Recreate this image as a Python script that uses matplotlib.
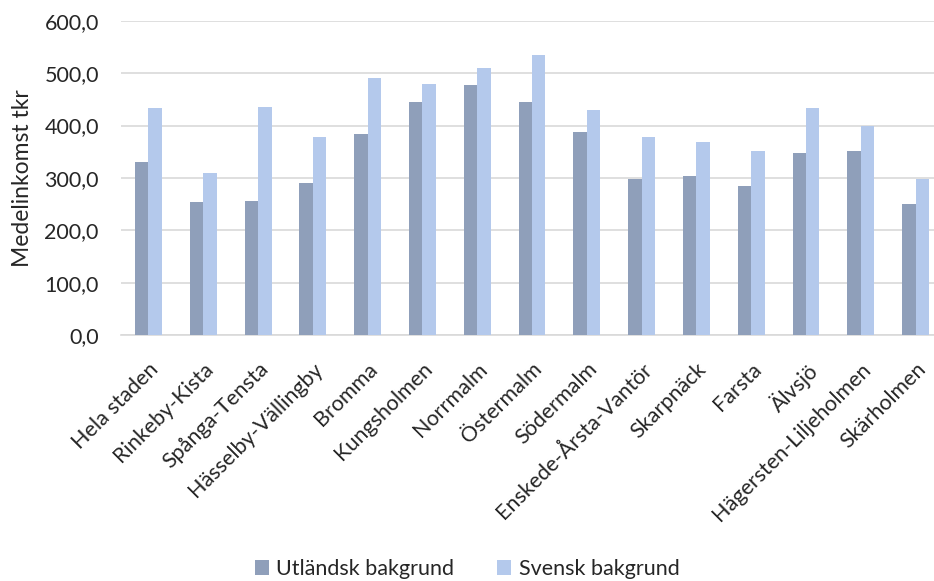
import numpy as np
import matplotlib.pyplot as plt

plt.rcParams.update({
    "font.family": ["Lato", "DejaVu Sans"],
    "font.size": 15,
})

# Data (tkr)
districts = ["Hela staden", "Rinkeby-Kista", "Spånga-Tensta", "Hässelby-Vällingby",
             "Bromma", "Kungsholmen", "Norrmalm", "Östermalm", "Södermalm",
             "Enskede-Årsta-Vantör", "Skarpnäck", "Farsta", "Älvsjö",
             "Hägersten-Liljeholmen", "Skärholmen"]
utlandsk = [331, 255, 257, 290, 383, 445, 478, 445, 388, 298, 304, 284, 348, 351, 251]
svensk = [434, 309, 436, 378, 490, 480, 510, 535, 429, 378, 369, 351, 433, 399, 299]
yticks = [0, 100, 200, 300, 400, 500, 600]

c_utl = "#8F9FBA"
c_sv = "#B4C9EC"

fig = plt.figure(figsize=(9.34, 5.81), dpi=100)
ax = fig.add_axes([0.1296, 0.4229, 0.8800, 0.5415])

x = np.arange(len(districts))
w = 0.246
ax.bar(x - w / 2, utlandsk, w, color=c_utl, label="Utländsk bakgrund", zorder=3)
ax.bar(x + w / 2, svensk, w, color=c_sv, label="Svensk bakgrund", zorder=3)

ax.set_xlim(-0.5, len(districts) - 0.5)
ax.set_ylim(0, 600)
ax.set_yticks(yticks)
ax.set_yticklabels([f"{v:.1f}".replace(".", ",") for v in yticks], color="#262626",
                   fontsize=15.5)
ax.yaxis.grid(True, color="#D9D9D9", linewidth=1.2, zorder=0)
ax.tick_params(axis="both", length=0)
ax.tick_params(axis="y", pad=16)
for s in ["top", "right", "left"]:
    ax.spines[s].set_visible(False)
ax.spines["bottom"].set_color("#D9D9D9")
ax.spines["bottom"].set_linewidth(1.2)

ax.set_xticks(x)
ax.set_xticklabels(districts, rotation=45, ha="right", rotation_mode="anchor",
                   color="#262626", fontsize=15.5)
ax.tick_params(axis="x", pad=17)

ax.set_ylabel("Medelinkomst tkr", fontsize=16.5, color="#262626", labelpad=8)

fig.legend(loc="lower center", bbox_to_anchor=(0.5, -0.03), ncol=2, frameon=False,
           fontsize=15.5, handlelength=0.65, handleheight=0.65, columnspacing=2.0,
           handletextpad=0.35, labelcolor="#262626")

plt.savefig("out.png", dpi=100)
